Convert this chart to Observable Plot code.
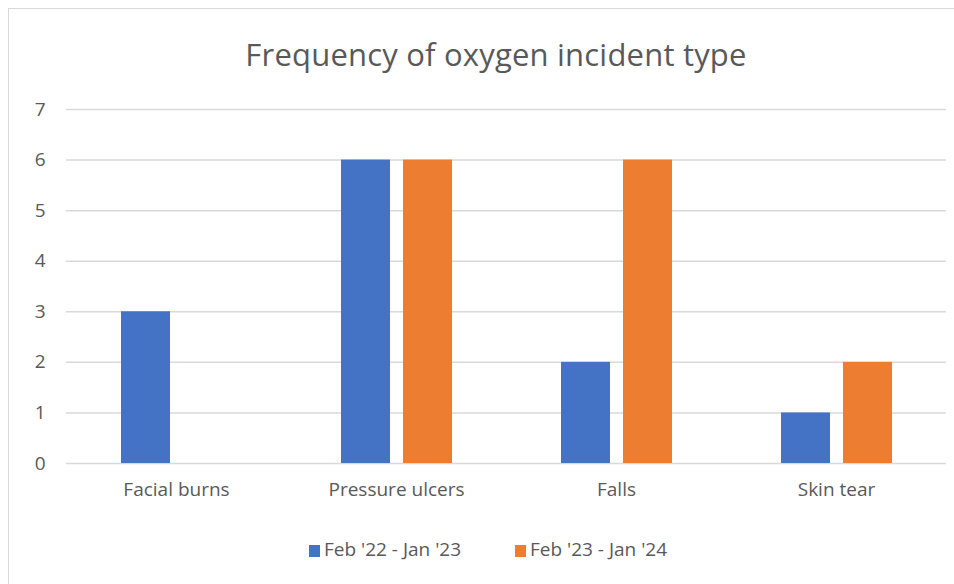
<!DOCTYPE html>
<html><head><meta charset="utf-8">
<script src="https://cdn.jsdelivr.net/npm/d3@7"></script>
<script src="https://cdn.jsdelivr.net/npm/@observablehq/plot@0.6"></script>
<style>
body{margin:0;background:#fff;font-family:"Open Sans",sans-serif;}
#wrap{position:relative;width:954px;height:584px;overflow:hidden;background:#fff;}
#frame{position:absolute;left:8px;top:8px;width:960px;height:600px;border:1.5px solid #d9d9d9;box-sizing:border-box;}
#title{position:absolute;left:0;width:992px;top:33px;text-align:center;font-size:31px;color:#595959;letter-spacing:0.2px;}
#legend{position:absolute;left:0;top:536px;font-size:19px;color:#595959;}
#legend .it{position:absolute;white-space:nowrap;top:0;}
#legend .sw{display:inline-block;width:11px;height:12px;margin-right:4px;vertical-align:-1px;}
#chart{position:absolute;left:0;top:0;}
</style></head>
<body><div id="wrap"><div id="frame"></div><div id="chart"></div><div id="title"></div><div id="legend"></div></div>
<script>
const categories = ["Facial burns","Pressure ulcers","Falls","Skin tear"];
const seriesNames = ["Feb '22 - Jan '23","Feb '23 - Jan '24"];
const series1 = [3,6,2,1];
const series2 = [0,6,6,2];
const colors = ["#4472C4","#ED7D31"];
const yTicks = [0,1,2,3,4,5,6,7];
const titleText = "Frequency of oxygen incident type";

const data = [];
categories.forEach((c,i)=>{
  data.push({cat:c, series:seriesNames[0], value:series1[i]});
  data.push({cat:c, series:seriesNames[1], value:series2[i]});
});

document.getElementById("title").textContent = titleText;
const leg = document.getElementById("legend");
const legX = [309, 515];
seriesNames.forEach((s,i)=>{
  const it = document.createElement("span"); it.className="it"; it.style.left = legX[i]+"px";
  const sw = document.createElement("span"); sw.className="sw"; sw.style.background=colors[i];
  it.appendChild(sw); it.appendChild(document.createTextNode(s));
  leg.appendChild(it);
});

const chart = Plot.plot({
  width: 954, height: 584,
  marginLeft: 66, marginRight: 8, marginTop: 109, marginBottom: 121,
  style:{fontFamily:'"Open Sans",sans-serif', fontSize:"19px", color:"#595959", background:"transparent"},
  fx:{domain:categories, padding:0, label:null, axis:"bottom", tickSize:0, tickPadding:19},
  x:{domain:seriesNames, paddingInner:0.21, paddingOuter:0.879, axis:null},
  y:{domain:[0,7], ticks:yTicks, tickFormat:d3.format("d"), label:null, tickSize:0, tickPadding:21},
  color:{domain:seriesNames, range:colors},
  marks:[
    Plot.gridY(yTicks,{stroke:"#d9d9d9", strokeOpacity:1, strokeWidth:1.5}),
    Plot.barY(data,{fx:"cat", x:"series", y:"value", fill:"series"})
  ]
});
document.getElementById("chart").appendChild(chart);
</script></body></html>
